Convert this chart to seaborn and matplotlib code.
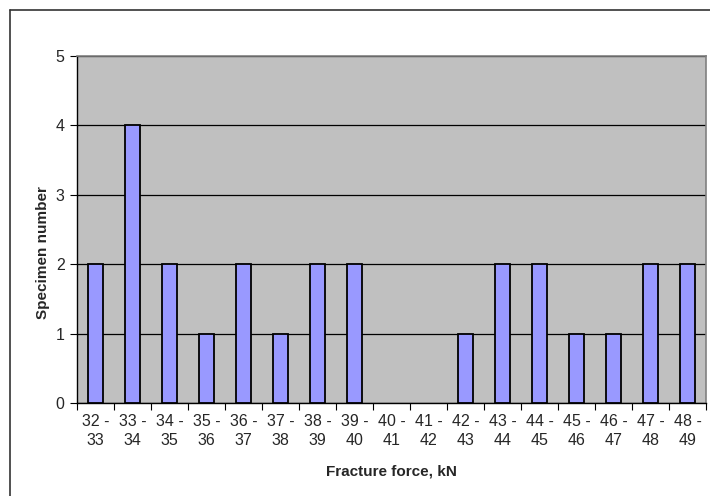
import matplotlib
matplotlib.use("Agg")
import matplotlib.pyplot as plt
import seaborn as sns
import pandas as pd
import numpy as np
from matplotlib.lines import Line2D

# Force ranges (kN) and number of specimens in each
range_low = [32, 33, 34, 35, 36, 37, 38, 39, 40, 41, 42, 43, 44, 45, 46, 47, 48]
range_high = [33, 34, 35, 36, 37, 38, 39, 40, 41, 42, 43, 44, 45, 46, 47, 48, 49]
specimens = [2, 4, 2, 1, 2, 1, 2, 2, 0, 0, 1, 2, 2, 1, 1, 2, 2]
y_ticks = [0, 1, 2, 3, 4, 5]

labels = [f"{a} -\n{b}" for a, b in zip(range_low, range_high)]
df = pd.DataFrame({"range": labels, "count": specimens})

sns.set_theme(style="white")
plt.rcParams["font.family"] = ["Liberation Sans", "DejaVu Sans"]

fig = plt.figure(figsize=(7.10, 4.96), dpi=100)
ax = fig.add_axes([0.1085, 0.1875, 0.8859, 0.6995])
ax.set_facecolor("#C0C0C0")

sns.barplot(data=df, x="range", y="count", color="#9999FF", saturation=1,
            width=0.4, edgecolor="black", linewidth=1.3, ax=ax, zorder=3)

# empty ranges get no visible outline
for patch in ax.patches:
    if patch.get_height() == 0:
        patch.set_visible(False)

ax.set_xlim(-0.5, len(labels) - 0.5)
ax.set_ylim(0, 5)
ax.set_yticks(y_ticks)
ax.yaxis.grid(True, color="black", linewidth=0.9, zorder=1)
ax.set_axisbelow(True)

# category labels centred, tick marks on the category boundaries
ax.set_xticks(range(len(labels)))
ax.set_xticklabels(labels, fontsize=11.5, linespacing=1.3)
ax.set_xticks(np.arange(-0.5, len(labels)), minor=True)
ax.tick_params(axis="x", which="major", length=0, pad=8)
ax.tick_params(axis="x", which="minor", length=5, width=0.8, color="black",
               direction="out", bottom=True)
ax.tick_params(axis="y", length=5, width=0.8, color="black", direction="out",
               left=True, labelsize=11.5, pad=4)

for side in ["top", "right"]:
    ax.spines[side].set_color("#808080")
    ax.spines[side].set_linewidth(1.2)
for side in ["left", "bottom"]:
    ax.spines[side].set_color("black")
    ax.spines[side].set_linewidth(1.0)

ax.set_xlabel("Fracture force, kN", fontsize=11, fontweight="bold", labelpad=12)
ax.set_ylabel("Specimen number", fontsize=11, fontweight="bold")
ax.yaxis.set_label_coords(-0.043, 0.435)

# chart frame
fig.add_artist(Line2D([10 / 710, 1.0], [1 - 10 / 496, 1 - 10 / 496],
                      transform=fig.transFigure, color="#333333", linewidth=1.2))
fig.add_artist(Line2D([10 / 710, 10 / 710], [0.0, 1 - 10 / 496],
                      transform=fig.transFigure, color="#333333", linewidth=1.2))

fig.savefig("out.png", dpi=100)
